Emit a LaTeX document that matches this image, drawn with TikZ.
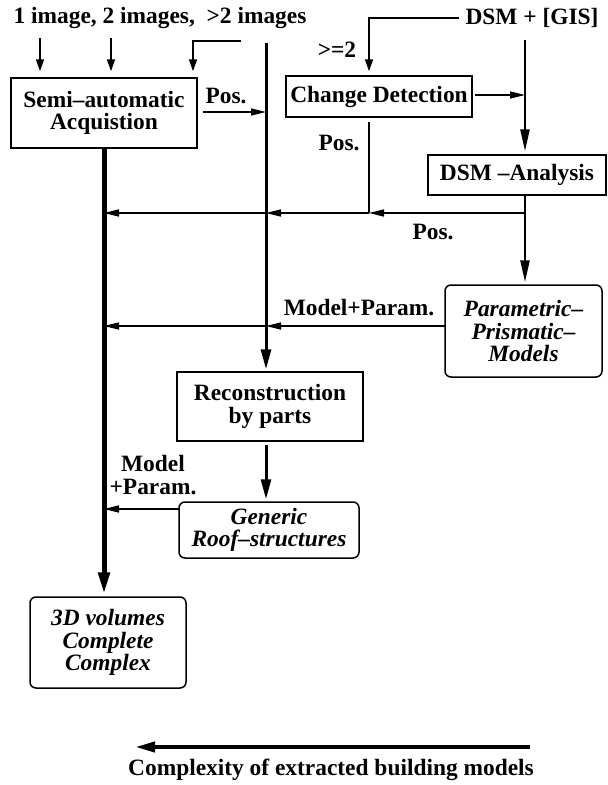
\documentclass[tikz,border=0pt]{standalone}
\usepackage{fontspec}
\setmainfont{Liberation Serif}
\usetikzlibrary{arrows.meta}
\begin{document}
\begin{tikzpicture}[x=1pt,y=-1pt,
  font=\fontsize{23.4}{22.5}\selectfont\bfseries,
  box/.style={draw, line width=1.5pt, inner sep=0pt, align=center},
  rbox/.style={box, rounded corners=6pt, font=\fontsize{23.4}{22.5}\selectfont\bfseries\itshape},
  lab/.style={inner sep=0pt, align=center},
  thinline/.style={line width=1.5pt},
  tarrow/.style={line width=1.5pt, -{Triangle[length=15pt,width=7pt]}},
  darrow/.style={line width=1.5pt, -{Triangle[length=12pt,width=8pt]}},
  marrow/.style={line width=3pt, -{Triangle[length=20pt,width=10pt]}},
  rarrow/.style={line width=2.5pt, -{Triangle[length=22pt,width=9pt]}},
  larrow/.style={line width=5pt, -{Triangle[length=22pt,width=11pt]}},
  barrow/.style={line width=4pt, -{Triangle[length=20pt,width=10pt]}}]
\useasboundingbox (0,0) rectangle (608,785);

% nodes
\node[lab] (top) at (160,18) {1 image, 2 images,\ \ >2 images};
\node[lab] (gis) at (532,18) {DSM + [GIS]};
\node[box, minimum width=186pt, minimum height=70pt] (semi) at (104,113) {Semi–automatic\\Acquistion};
\node[box, minimum width=186pt, minimum height=41pt] (cd) at (379,96.5) {Change Detection};
\node[box, minimum width=178pt, minimum height=40pt] (dsm) at (517,175) {DSM –Analysis};
\node[rbox, minimum width=157pt, minimum height=92pt] (param) at (523.5,331) {Parametric–\\Prismatic–\\Models};
\node[box, minimum width=186pt, minimum height=69pt] (recon) at (270,406.5) {Reconstruction\\by parts};
\node[rbox, minimum width=180pt, minimum height=56pt] (gen) at (269,530) {Generic\\Roof–structures};
\node[rbox, minimum width=156pt, minimum height=91pt] (vol) at (108,642.5) {3D volumes\\Complete\\Complex};
\node[lab] (cplx) at (331,770) {Complexity of extracted building models};

% labels
\node[lab] (l1) at (226,96) {Pos.};
\node[lab] (l2) at (339,143) {Pos.};
\node[lab] (l3) at (433,232) {Pos.};
\node[lab] (l4) at (359,308) {Model+Param.};
\node[lab] (l5) at (153,475) {Model\\+Param.};
\node[lab] (l6) at (337,50) {>=2};

% coordinates
\coordinate (t1) at (40,38);
\coordinate (t2) at (111,38);
\coordinate (t3) at (241,41);
\coordinate (t3b) at (193,41);
\coordinate (mtop) at (266,43);
\coordinate (rtop) at (525,40);
\coordinate (cdx) at (369,122);
\coordinate (h1) at (525,213);
\coordinate (pl) at (445,326);
\coordinate (gl) at (179,509);
\coordinate (b1) at (530,747);
\coordinate (b2) at (135,747);

% top inputs
\draw[darrow, shorten >=6pt] (t1) -- (t1 |- semi.north);
\draw[darrow, shorten >=6pt] (t2) -- (t2 |- semi.north);
\draw[darrow, shorten >=6pt] (t3) -- (t3b) -- (t3b |- semi.north);

% middle line
\draw[marrow, shorten >=2pt] (mtop) -- (mtop |- recon.north);
\draw[tarrow] ([xshift=5pt]semi.east |- 0,112) -- (mtop |- 0,112);

% DSM + GIS
\draw[darrow, shorten <=6pt, shorten >=4pt] (gis.west) -| (cd.north -| cdx);
\draw[rarrow, shorten >=3pt] (rtop) -- (rtop |- dsm.north);
\draw[tarrow] ([xshift=2pt]cd.east |- 0,95) -- (rtop |- 0,95);
\draw[rarrow, shorten >=2pt] (dsm.south -| rtop) -- (rtop |- param.north);

% Pos. horizontal
\draw[thinline] (cdx) -- (h1 -| cdx);
\draw[tarrow] (h1) -- (h1 -| cdx);
\draw[tarrow] (h1 -| cdx) -- (h1 -| mtop);
\draw[tarrow] (h1 -| mtop) -- (h1 -| semi.south);

% Param
\draw[tarrow] (pl) -- (pl -| mtop);
\draw[tarrow] (pl -| mtop) -- (pl -| semi.south);

% left thick
\draw[larrow, shorten >=2pt] (semi.south) -- (semi.south |- vol.north);

% recon -> generic
\draw[marrow, shorten >=2pt] ([yshift=-3pt]recon.south -| mtop) -- (mtop |- gen.north);
\draw[tarrow] (gl) -- (gl -| semi.south);

% bottom
\draw[barrow] (b1) -- (b2);
\end{tikzpicture}
\end{document}
